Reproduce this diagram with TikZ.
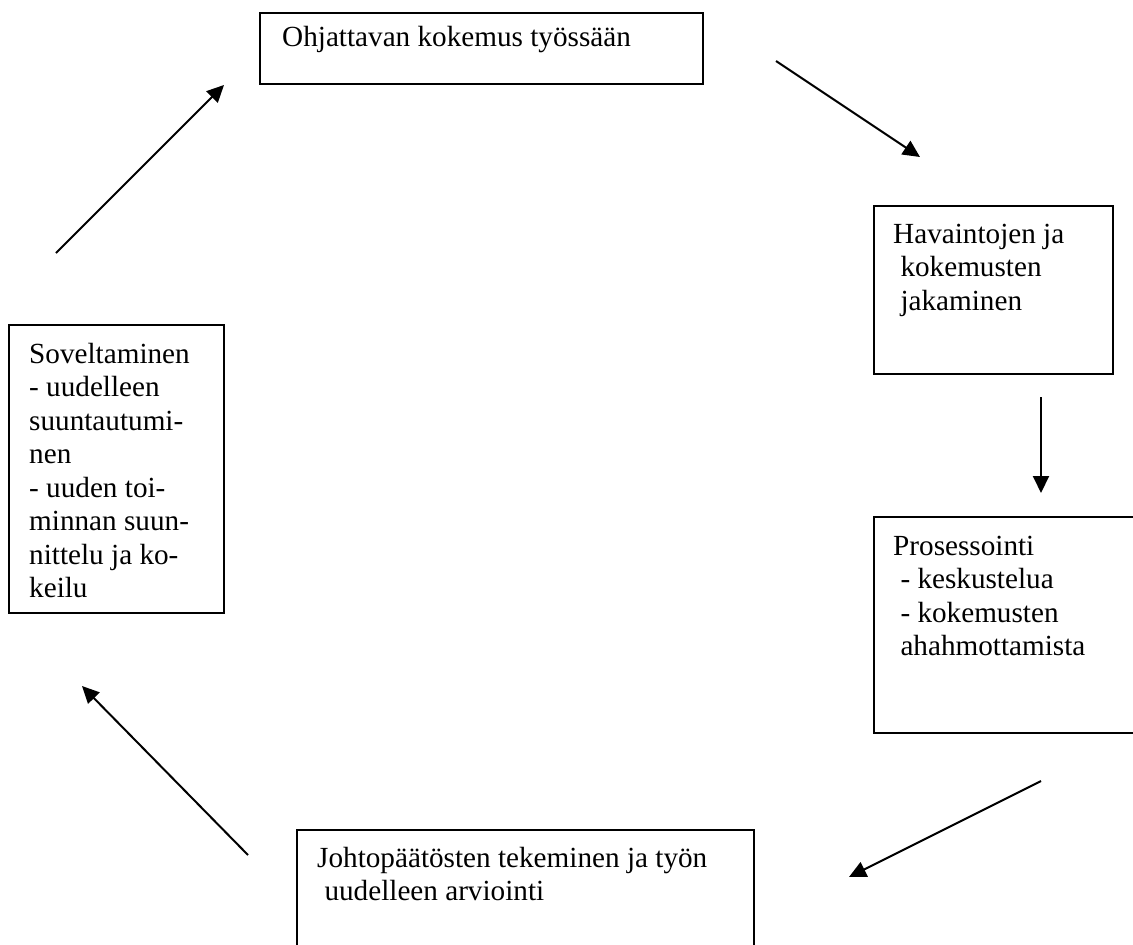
\documentclass[tikz,border=0pt]{standalone}
\usepackage{fontspec}
\setmainfont{Liberation Serif}
\usetikzlibrary{arrows.meta}
\tikzset{
  box/.style={draw, line width=2pt, rectangle, inner sep=0pt, anchor=north west},
  txt/.style={inner sep=0pt, align=left, anchor=base west, font=\fontsize{29.2}{33.5}\selectfont},
  flow/.style={line width=2pt, -{Triangle[length=17pt,width=16pt]}}
}
\begin{document}
\begin{tikzpicture}[x=1pt,y=-1pt]
\useasboundingbox (0,0) rectangle (1133,945);
% boxes
\node[box, minimum width=443pt, minimum height=71pt] (b1) at (259,12) {};
\node[box, minimum width=239pt, minimum height=168pt] (b2) at (873,205) {};
\node[box, minimum width=263pt, minimum height=216pt] (b3) at (873,516) {};
\node[box, minimum width=457pt, minimum height=130pt] (b4) at (296,829) {};
\node[box, minimum width=215pt, minimum height=288pt] (b5) at (8,324) {};
% texts (anchor = baseline of the last line)
\node[txt] (t1) at (282,46) {Ohjattavan kokemus työssään};
\node[txt] (t2) at (893,310) {Havaintojen ja\\\hspace*{0.25em}kokemusten\\\hspace*{0.25em}jakaminen};
\node[txt] (t3) at (893,655.5) {Prosessointi\\\hspace*{0.25em}- keskustelua\\\hspace*{0.25em}- kokemusten\\\hspace*{0.25em}ahahmottamista};
\node[txt] (t4) at (317,900.5) {Johtopäätösten tekeminen ja työn\\\hspace*{0.25em}uudelleen arviointi};
\node[txt] (t5) at (29,597.5) {Soveltaminen\\- uudelleen\\suuntautumi-\\nen\\- uuden toi-\\minnan suun-\\nittelu ja ko-\\keilu};
% arrow end points
\coordinate (a1s) at (776,61);   \coordinate (a1e) at (920,157);
\coordinate (a2s) at (1041,397); \coordinate (a2e) at (1041,493);
\coordinate (a3s) at (1041,781); \coordinate (a3e) at (849,877);
\coordinate (a4s) at (248,855);  \coordinate (a4e) at (82,686);
\coordinate (a5s) at (56,253);   \coordinate (a5e) at (224,85);
\draw[flow] (a1s) -- (a1e);
\draw[flow] (a2s) -- (a2e);
\draw[flow] (a3s) -- (a3e);
\draw[flow] (a4s) -- (a4e);
\draw[flow] (a5s) -- (a5e);
\end{tikzpicture}
\end{document}
